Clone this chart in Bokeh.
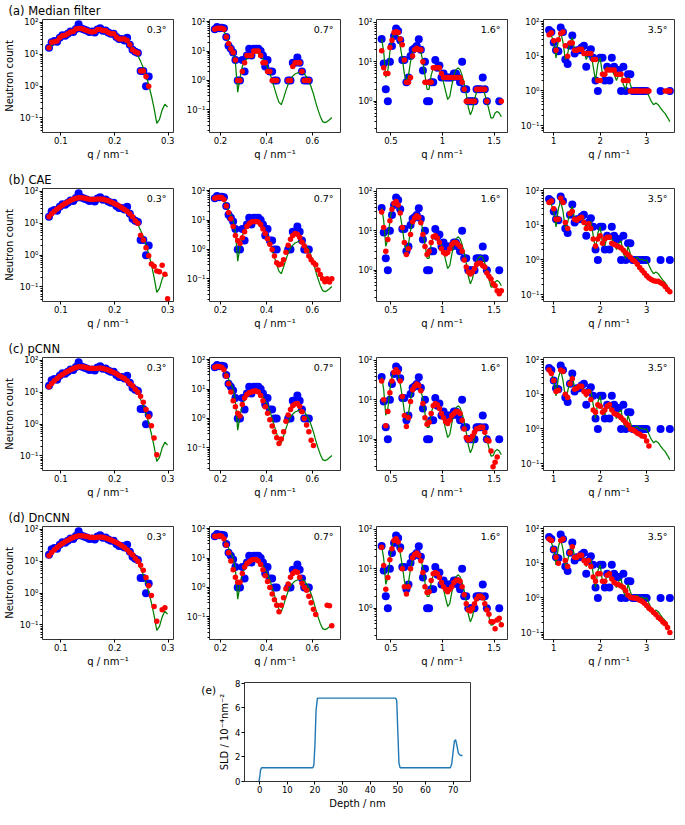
from bokeh.plotting import figure
from bokeh.layouts import row, column
from bokeh.models import Range1d, FixedTicker, CustomJSTickFormatter, Label, ColumnDataSource, Div
from bokeh.embed import file_html
from bokeh.resources import INLINE

nan = float("nan")

# ---------------- data: 0.3 deg ----------------
q_03 = [0.078, 0.083, 0.088, 0.093, 0.098, 0.103, 0.108, 0.113, 0.118, 0.123, 0.128, 0.133, 0.138, 0.143,
        0.148, 0.153, 0.158, 0.163, 0.168, 0.173, 0.178, 0.183, 0.188, 0.193, 0.198, 0.203, 0.208, 0.213,
        0.218, 0.223, 0.228, 0.233, 0.238, 0.243, 0.248, 0.253, 0.258, 0.263, 0.268, 0.273, 0.278, 0.283,
        0.288, 0.293, 0.298]
truth_03 = [15, 19, 23, 27, 31, 36, 41, 46, 51, 55, 59, 61, 61, 59, 57, 55, 54, 55, 57, 58, 57, 54, 50, 46, 42,
            38, 34, 30, 26, 23, 19, 15.5, 12, 9, 6, 3.8, 2.2, 1.1, 0.5, 0.2, 0.068, 0.09, 0.18, 0.27, 0.22]
raw_03 = [16, 24, 26, 25, 33, 40, 38, 44, 52, 50, 62, 88, 65, 60, 56, 50, 52, 48, 60, 66, 55, 56, 48, 44, 44,
          35, 30, 30, 27, 33, 20, 14, 12, 11, 3, 3, 1, 2, nan, nan, nan, nan, nan, nan, nan]
median_03 = [16, 24, 25, 26, 33, 38, 40, 44, 50, 52, 62, 65, 65, 60, 56, 52, 50, 52, 60, 60, 56, 55, 48, 44, 44,
             35, 30, 30, 30, 27, 20, 14, 12, 11, 3, 3, 2, 1, nan, nan, nan, nan, nan, nan, nan]
cae_03 = [16, 20, 24, 28, 32, 37, 42, 47, 52, 57, 61, 64, 64, 62, 59, 57, 56, 57, 58, 58, 57, 54, 51, 47, 43,
          39, 35, 31, 27, 24, 20, 16, 12, 10, 4.2, 3, 1.7, 0.95, 0.53, 0.45, 0.32, 0.3, 0.48, 0.25, 0.043]
pcnn_03 = [15, 19, 23, 27, 32, 36, 41, 46, 51, 56, 60, 63, 64, 62, 59, 57, 56, 56, 57, 58, 56, 53, 50, 46, 42,
           38, 34, 30, 27, 23, 19, 16, 12.5, 10, 7.5, 4.9, 2.9, 1.7, 0.89, 0.37, 0.11, nan, nan, nan, nan]
dncnn_03 = [15, 19, 23, 27, 32, 36, 41, 46, 51, 56, 60, 63, 64, 62, 60, 57, 56, 56, 57, 58, 57, 54, 50, 47, 43,
            39, 35, 31, 27, 23, 19, 16, 12.5, 10, 7.5, 5.2, 3.1, 1.7, 0.85, 0.38, 0.13, nan, 0.3, 0.35, nan]

# ---------------- data: 0.7 deg ----------------
q_07 = [0.175, 0.185, 0.195, 0.205, 0.215, 0.225, 0.235, 0.245, 0.255, 0.265, 0.275, 0.285, 0.295, 0.305,
        0.315, 0.325, 0.335, 0.345, 0.355, 0.365, 0.375, 0.385, 0.395, 0.405, 0.415, 0.425, 0.435, 0.445,
        0.455, 0.465, 0.475, 0.485, 0.495, 0.505, 0.515, 0.525, 0.535, 0.545, 0.555, 0.565, 0.575, 0.585,
        0.595, 0.605, 0.615, 0.625, 0.635, 0.645, 0.655, 0.665, 0.675, 0.685]
truth_07 = [55, 60, 62, 58, 48, 33, 22, 15, 10, 4, 0.4, 1.2, 3, 4.5, 5.5, 6.5, 7.5, 8.5, 9, 8.5, 7, 5.5, 4, 2.8,
            1.8, 1.0, 0.55, 0.3, 0.18, 0.15, 0.25, 0.45, 0.75, 1.1, 1.4, 1.65, 1.8, 1.9, 1.9, 1.7, 1.3, 0.95,
            0.6, 0.35, 0.18, 0.1, 0.06, 0.04, 0.037, 0.04, 0.046, 0.055]
raw_07 = [55, 65, 60, 62, 60, 30, 15, 12, 9, 5, 1, 1, 5, 2, 7, 12, 7, 12, 12, 12, 10, 7, 3, 5, 2, 2, 1, 1,
          nan, nan, nan, nan, 1, 1, 4, 4, 6, 4, 2, 1, 1, 1, nan, nan, nan, nan, nan, nan, nan, nan, nan, nan]
median_07 = [55, 60, 60, 60, 55, 30, 18, 12, 9, 5, 1, 1, 2, 4, 7, 7, 7, 10, 10, 10, 7, 4, 4, 2, 2, 1, 1, 1,
             nan, nan, nan, nan, 1, 1, 3, 4, 4, 4, 2, 1, 1, 1, nan, nan, nan, nan, nan, nan, nan, nan, nan, nan]
cae_07 = [55, 58, 60, 58, 50, 30, 18, 11, 6, 3, 2, 1.6, 2.5, 4, 6, 7.5, 8.5, 9, 9, 8.5, 7, 5, 3.5, 2.3, 1.5,
          1.0, 0.6, 0.35, 0.3, 0.32, 0.45, 0.8, 1.4, 2.2, 3, 3.5, 3.3, 2.6, 1.8, 1.3, 0.9, 0.6, 0.45, 0.35,
          0.3, 0.2, 0.14, 0.1, 0.08, 0.1, 0.078, 0.1]
pcnn_07 = [55, 58, 58, 55, 45, 28, 15, 8, 4, 2.5, 1.5, 1.2, 3, 5, 6.5, 7.5, 8, 8.5, 8.5, 8, 6, 4, 2.5, 1.5,
           0.9, 0.55, 0.35, 0.22, 0.14, 0.2, 0.35, 0.8, 1.3, 2, 2.7, 3.1, 3.2, 2.6, 1.7, 1.0, 0.6, 0.35, 0.18,
           0.12, nan, nan, nan, nan, nan, nan, nan, nan]
dncnn_07 = [55, 55, 58, 55, 45, 28, 15, 8, 4, 2.2, 1.5, 1.5, 3, 5, 6.5, 7.5, 8.5, 9, 9, 8, 6, 4, 2.5, 1.6,
            1.0, 0.6, 0.38, 0.25, 0.15, 0.25, 0.45, 0.9, 1.3, 2.2, 3, 3.5, 3.3, 2.2, 1.4, 1.0, 0.8, 0.5, 0.3,
            0.18, 0.12, nan, nan, nan, nan, 0.25, 0.24, 0.05]

# ---------------- data: 1.6 deg ----------------
q_16 = [0.41, 0.43, 0.45, 0.47, 0.49, 0.51, 0.53, 0.55, 0.57, 0.59, 0.61, 0.63, 0.65, 0.67, 0.69, 0.71, 0.73,
        0.75, 0.77, 0.79, 0.81, 0.83, 0.85, 0.87, 0.89, 0.91, 0.93, 0.95, 0.97, 0.99, 1.01, 1.03, 1.05, 1.07,
        1.09, 1.11, 1.13, 1.15, 1.17, 1.19, 1.21, 1.23, 1.25, 1.27, 1.29, 1.31, 1.33, 1.35, 1.37, 1.39, 1.41,
        1.43, 1.45, 1.47, 1.49, 1.51, 1.53, 1.55, 1.57]
truth_16 = [38, 18, 4, 6, 18, 38, 55, 60, 45, 25, 12, 5, 3, 4.5, 10, 17, 22, 25, 23, 18, 10, 4.5, 2, 2, 4.5, 7,
            8, 7.5, 6, 4.5, 3, 1.8, 1.1, 1.3, 2.5, 4.5, 6.2, 7, 6.3, 4.5, 2.8, 1.5, 0.7, 0.45, 0.6, 1.1, 1.7,
            2.1, 2.3, 2.1, 1.5, 1.0, 0.6, 0.37, 0.38, 0.5, 0.55, 0.5, 0.4]
raw_16 = [38, 9, 2, 1, 10, 25, 45, 70, 60, 35, 11, 11, 3, 4, 14, 20, 22, 25, 37, 20, 6, 10, 1, 1, 3, 3, 11, 7,
          8, 4, 5, 4, 4, 4, 4, 5, 5, 4, 3, 10, 2, 2, 1, 1, 1, 1, 2, 2, 2, 4, 2, 1, nan, nan, nan, nan, nan, 1,
          nan]
median_16 = [19, 7, 5, 5, 23, 35, 55, 58, 55, 38, 27, 11, 3, 3, 4, 14, 20, 22, 20, 20, 10, 3, 3, 3, 3, 7, 7, 7,
             7, 5, 4, 4, 4, 4, 4, 4, 4, 4, 4, 3, 2, 1, 1, 1, 1, 1, 2, 2, 2, 2, 2, 1, nan, nan, nan, nan, nan,
             nan, 1]
cae_16 = [30, 12, 3, 6, 18, 35, 50, 55, 45, 28, 12, 5, 2.5, 3.5, 8, 17, 21, 24, 22, 16, 8, 4, 2.5, 3, 5, 7, 7.5,
          6.5, 5, 3.5, 2.8, 2.6, 2.8, 3.5, 4.5, 5, 5, 4.5, 4, 3, 1.8, 1.2, 0.9, 0.8, 0.9, 1.1, 1.4, 1.5, 1.5,
          1.3, 1.2, 0.85, 0.7, 0.6, 0.45, 0.4, 0.3, 0.25, 0.3]
pcnn_16 = [30, 10, 2.2, 5, 15, 30, 50, 58, 50, 30, 12, 4, 2.1, 3.5, 9, 18, 22, 25, 23, 17, 8, 3.5, 2.4, 2.7,
           4.5, 7, 8, 7.5, 6, 4.5, 3.5, 2.8, 2.5, 3, 4, 4.5, 5, 5, 4.5, 3, 1.8, 1.1, 0.95, 1.0, 1.2, 1.5, 1.8,
           1.9, 2.0, 2.0, 1.5, 0.95, 0.9, 0.5, 0.2, 0.26, 0.35, nan, nan]
dncnn_16 = [35, 12, 3, 6, 17, 32, 52, 58, 48, 30, 10, 3.5, 2.3, 3.5, 10, 19, 23, 25, 22, 16, 8, 3.5, 2.5, 2.6,
            5, 7.5, 8, 7.5, 6, 4.5, 3.5, 3, 2.6, 3, 3.5, 4.5, 5, 5.2, 4.8, 3.5, 2.2, 1.3, 0.9, 0.85, 1.0, 1.3,
            1.7, 2.0, 2.0, 1.8, 1.3, 0.9, 0.7, 0.45, 0.45, 0.3, 0.5, 0.55, 0.38]

# ---------------- data: 3.5 deg ----------------
q_35 = [0.9, 0.95, 1.0, 1.05, 1.1, 1.15, 1.2, 1.25, 1.3, 1.35, 1.4, 1.45, 1.5, 1.55, 1.6, 1.65, 1.7, 1.75, 1.8,
        1.85, 1.9, 1.95, 2.0, 2.05, 2.1, 2.15, 2.2, 2.25, 2.3, 2.35, 2.4, 2.45, 2.5, 2.55, 2.6, 2.65, 2.7, 2.75,
        2.8, 2.85, 2.9, 2.95, 3.0, 3.05, 3.1, 3.15, 3.2, 3.25, 3.3, 3.35, 3.4, 3.45, 3.5]
truth_35 = [45, 40, 25, 9, 30, 50, 25, 8, 12, 25, 35, 15, 13, 18, 15, 14, 8, 12, 13, 5, 2, 6, 9, 3, 2.5, 5, 4, 4,
            3, 2, 3, 3.5, 1.5, 1.1, 2.5, 1.5, 1.0, 1.1, 1.2, 1.0, 1.05, 0.95, 1.0, 0.7, 0.5, 0.4, 0.45, 0.4,
            0.32, 0.26, 0.22, 0.17, 0.13]
raw_35 = [57, 50, 25, 15, 14, 68, 50, 8, 6, 20, 40, 12, 15, 15, 18, 20, 5, 12, 16, 9, 2, 1, 9, 9, 2, 5, 2, 9, 5,
          4, 4, 1, 5, 1, 3, 3, 1, 1, 1, 1, 1, 1, 1, nan, nan, nan, nan, nan, 1, nan, nan, nan, 1]
median_35 = [42, 48, 28, 15, 30, 45, 50, 20, 10, 24, 24, 15, 15, 16, 16, 12, 12, 12, 12, 8, 8, 2, 2, 3, 3, 4, 4,
             4, 4, 3, 3, 3, 2, 2, 2, 1, 1, 1, 1, 1, 1, 1, 1, 1, nan, nan, nan, nan, nan, nan, 1, 1, 1]
cae_35 = [45, 50, 30, 15, 15, 60, 45, 12, 8, 22, 25, 15, 14, 16, 17, 12, 8, 11, 8, 4, 2.5, 4, 5, 3, 4, 4.5, 4.5,
          3, 2.8, 2.6, 2.4, 2.2, 1.9, 1.6, 1.4, 1.2, 1.0, 0.9, 0.75, 0.6, 0.5, 0.42, 0.35, 0.3, 0.27, 0.25,
          0.24, 0.24, 0.22, 0.2, 0.17, 0.14, 0.12]
pcnn_35 = [50, 40, 25, 12, 13, 50, 45, 10, 8, 20, 28, 14, 15, 17, 17, 12, 10, 12, 7, 3.5, 3, 5, 4.5, 3, 3.5,
           4.5, 5, 3.5, 2.8, 2.6, 2.4, 2.1, 1.8, 1.5, 1.3, 1.0, 0.95, 0.85, 0.75, 0.7, 0.62, 0.6, 0.45, 0.32,
           nan, nan, nan, nan, nan, nan, nan, nan, nan]
dncnn_35 = [50, 45, 25, 15, 10, 45, 50, 12, 8, 20, 30, 15, 15, 17, 17, 12, 10, 12, 8, 4, 3, 5, 5, 3, 3, 4.5, 5,
            3.5, 2.8, 2.5, 2.4, 2.2, 2, 1.6, 1.2, 1.05, 1.0, 1.0, 0.95, 0.85, 0.8, 0.7, 0.6, 0.5, 0.45, 0.38,
            0.33, 0.27, 0.24, 0.2, 0.18, 0.14, 0.1]

# ---------------- SLD profile ----------------
depth_nm = [-0.3, 0.0, 0.3, 0.7, 19.2, 19.6, 20.0, 20.4, 20.9, 49.2, 49.6, 50.0, 50.4, 50.8, 69.0, 69.5, 70.0,
            70.5, 70.9, 71.4, 71.9, 72.4, 72.9, 73.4]
sld = [0.0, 0.3, 0.9, 1.1, 1.1, 1.3, 3.0, 5.8, 6.8, 6.8, 6.6, 4.0, 1.5, 1.1, 1.1, 1.4, 2.4, 3.3, 3.4, 2.9, 2.3,
       2.15, 2.1, 2.1]

angle_labels = ["0.3\u00b0", "0.7\u00b0", "1.6\u00b0", "3.5\u00b0"]
row_titles = ["(a) Median filter", "(b) CAE", "(c) pCNN", "(d) DnCNN"]
x_ticks = [[0.1, 0.2, 0.3], [0.2, 0.4, 0.6], [0.5, 1.0, 1.5], [1, 2, 3]]
depth_ticks = [0, 10, 20, 30, 40, 50, 60, 70]
sld_ticks = [0, 2, 4, 6, 8]

cols = [
    dict(q=q_03, raw=raw_03, truth=truth_03, reds=[median_03, cae_03, pcnn_03, dncnn_03],
         xr=(0.066, 0.309), yr=(0.035, 124)),
    dict(q=q_07, raw=raw_07, truth=truth_07, reds=[median_07, cae_07, pcnn_07, dncnn_07],
         xr=(0.152, 0.723), yr=(0.017, 118)),
    dict(q=q_16, raw=raw_16, truth=truth_16, reds=[median_16, cae_16, pcnn_16, dncnn_16],
         xr=(0.36, 1.63), yr=(0.16, 118)),
    dict(q=q_35, raw=raw_35, truth=truth_35, reds=[median_35, cae_35, pcnn_35, dncnn_35],
         xr=(0.78, 3.6), yr=(0.063, 115)),
]

FONT = "DejaVu Sans"
FW, FH = 131, 113

SUP = CustomJSTickFormatter(code="""
const e = Math.round(Math.log10(tick));
const m = {'-':'\u207b','0':'\u2070','1':'\u00b9','2':'\u00b2','3':'\u00b3','4':'\u2074',
           '5':'\u2075','6':'\u2076','7':'\u2077','8':'\u2078','9':'\u2079'};
return '10' + String(e).split('').map(c => m[c]).join('');
""")

LOG_MAJOR = [0.01, 0.1, 1, 10, 100, 1000]
LOG_MINOR = [m * d for d in [0.01, 0.1, 1, 10, 100] for m in range(2, 10)]


def style(p):
    p.outline_line_color = "black"
    p.outline_line_width = 0.8
    p.xgrid.grid_line_color = None
    p.ygrid.grid_line_color = None
    p.background_fill_color = "white"
    p.border_fill_color = "white"
    for ax in p.axis:
        ax.axis_line_color = None
        ax.major_tick_in = 0
        ax.major_tick_out = 3
        ax.minor_tick_in = 0
        ax.minor_tick_out = 2
        ax.major_tick_line_color = "black"
        ax.minor_tick_line_color = "black"
        ax.major_label_text_font = FONT
        ax.major_label_text_font_size = "8.5px"
        ax.major_label_text_color = "black"
        ax.major_label_standoff = 1
        ax.axis_label_text_font = FONT
        ax.axis_label_text_font_size = "10px"
        ax.axis_label_text_font_style = "normal"
        ax.axis_label_text_color = "black"
        ax.axis_label_standoff = 2


def panel(ci, ri):
    c = cols[ci]
    p = figure(frame_width=FW, frame_height=FH, min_border_left=35, min_border_right=1,
               min_border_top=18, min_border_bottom=37,
               x_range=Range1d(*c["xr"]), y_range=Range1d(*c["yr"]), y_axis_type="log",
               output_backend="svg", toolbar_location=None,
               title=row_titles[ri] if ci == 0 else None)
    style(p)
    if ci == 0:
        p.title.align = "left"
        p.title.offset = -34
        p.title.standoff = 3
        p.title.text_font = FONT
        p.title.text_font_size = "11.5px"
        p.title.text_font_style = "normal"
        p.title.text_color = "black"
        p.yaxis.axis_label = "Neutron count"
    p.xaxis.ticker = FixedTicker(ticks=x_ticks[ci], minor_ticks=[])
    p.yaxis.ticker = FixedTicker(ticks=LOG_MAJOR, minor_ticks=LOG_MINOR)
    p.yaxis.formatter = SUP
    p.xaxis.axis_label = "q / nm\u207b\u00b9"
    src = ColumnDataSource(dict(q=c["q"], raw=c["raw"], truth=c["truth"], red=c["reds"][ri]))
    p.scatter("q", "raw", source=src, size=8, fill_color="#0000ff", line_color=None)
    p.line("q", "truth", source=src, line_color="#008000", line_width=1.25)
    p.scatter("q", "red", source=src, size=5.5, fill_color="#ff0000", line_color=None)
    p.add_layout(Label(x=FW - 7, y=FH - 4, x_units="screen", y_units="screen", text=angle_labels[ci],
                       text_align="right", text_baseline="top", text_font=FONT,
                       text_font_size="9.5px", text_color="black"))
    return p


rows = []
for ri in range(4):
    rows.append(row(*[panel(ci, ri) for ci in range(4)]))

EW, EH = 226, 99
pe = figure(frame_width=EW, frame_height=EH, min_border_left=25, min_border_right=1,
            min_border_top=6, min_border_bottom=30,
            x_range=Range1d(-5.5, 76.3), y_range=Range1d(-0.03, 8.08),
            output_backend="svg", toolbar_location=None)
style(pe)
pe.xaxis.ticker = FixedTicker(ticks=depth_ticks, minor_ticks=[])
pe.yaxis.ticker = FixedTicker(ticks=sld_ticks, minor_ticks=[])
pe.xaxis.axis_label = "Depth / nm"
pe.yaxis.axis_label = "SLD / 10\u207b\u2074nm\u207b\u00b2"
pe.line(depth_nm, sld, line_color="#1f77b4", line_width=1.4)

label_e = Div(text="(e)", width=216, height=16, margin=(9, 0, 0, 0),
              styles={"text-align": "right", "font-family": "DejaVu Sans", "font-size": "10.5px",
                      "color": "black", "line-height": "1"})

layout = column(*rows, row(label_e, pe))

with open("out.html", "w") as f:
    f.write(file_html(layout, INLINE))
